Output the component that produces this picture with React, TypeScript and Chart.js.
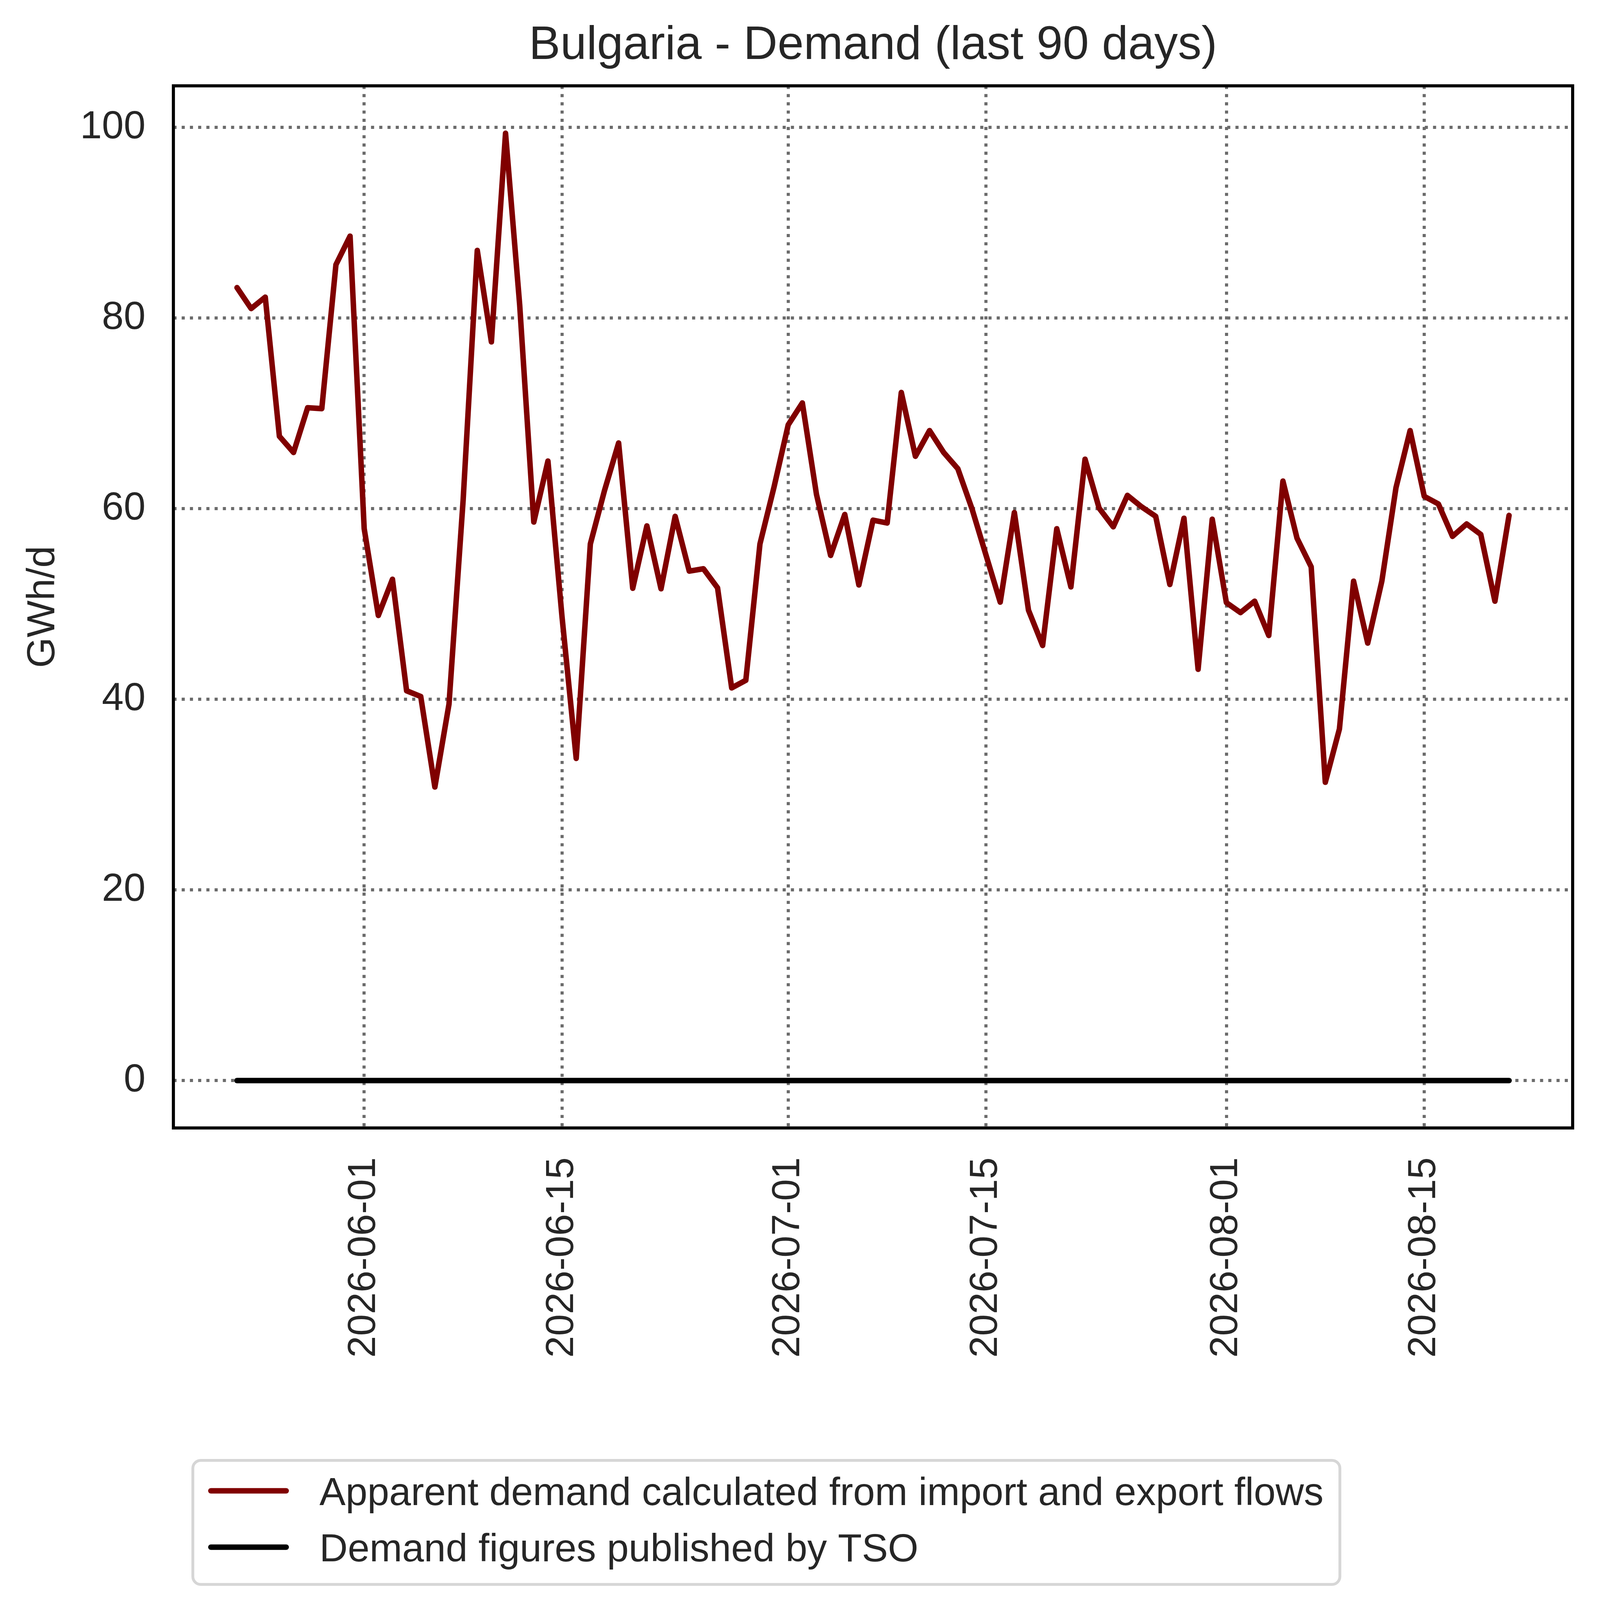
import React, { useEffect, useRef, useState } from 'react';
import { Chart, registerables } from 'chart.js';

Chart.register(...registerables);

// ---------------- data ----------------
const START_DATE = '2026-05-23';

const apparentDemand = [
  83.2, 81.0, 82.2, 67.6, 65.9, 70.6, 70.5, 85.6, 88.6, 57.9,
  48.8, 52.6, 40.9, 40.3, 30.8, 39.5, 60.9, 87.1, 77.5, 99.4,
  81.4, 58.6, 65.0, 48.6, 33.8, 56.3, 61.9, 66.9, 51.65, 58.2,
  51.6, 59.2, 53.45, 53.7, 51.7, 41.2, 42.0, 56.3, 62.3, 68.8,
  71.1, 61.5, 55.1, 59.4, 52.0, 58.8, 58.5, 72.2, 65.5, 68.2,
  65.9, 64.2, 60.0, 55.1, 50.2, 59.6, 49.35, 45.65, 57.9, 51.8,
  65.2, 60.05, 58.1, 61.4, 60.2, 59.2, 52.05, 59.0, 43.15, 58.9,
  50.15, 49.1, 50.3, 46.7, 62.9, 56.9, 53.9, 31.3, 36.9, 52.4,
  45.9, 52.4, 62.2, 68.2, 61.3, 60.5, 57.1, 58.4, 57.3, 50.3,
  59.3,
];

const tsoDemand = [
  0, 0, 0, 0, 0, 0, 0, 0, 0, 0,
  0, 0, 0, 0, 0, 0, 0, 0, 0, 0,
  0, 0, 0, 0, 0, 0, 0, 0, 0, 0,
  0, 0, 0, 0, 0, 0, 0, 0, 0, 0,
  0, 0, 0, 0, 0, 0, 0, 0, 0, 0,
  0, 0, 0, 0, 0, 0, 0, 0, 0, 0,
  0, 0, 0, 0, 0, 0, 0, 0, 0, 0,
  0, 0, 0, 0, 0, 0, 0, 0, 0, 0,
  0, 0, 0, 0, 0, 0, 0, 0, 0, 0,
  0,
];

const xTickLabels = ['2026-06-01', '2026-06-15', '2026-07-01', '2026-07-15', '2026-08-01', '2026-08-15'];
const yTickValues = [0, 20, 40, 60, 80, 100];

const TITLE = 'Bulgaria - Demand (last 90 days)';
const Y_LABEL = 'GWh/d';
const SERIES_LABELS = [
  'Apparent demand calculated from import and export flows',
  'Demand figures published by TSO',
];
const SERIES_COLORS = ['#800000', '#000000'];

// ---------------- layout / style (design units = output pixels) ----------------
const W = 5675;
const H = 5721;
const FONT = "'Liberation Sans', Arial, Helvetica, sans-serif";
const TEXT_COLOR = '#262626';
const GRID_COLOR = '#6b6b6b';
const TICK_SIZE = 139;
const TITLE_SIZE = 167;
const LINE_W = 19.5;

function dayOffset(s: string): number {
  const [y, m, d] = s.split('-').map(Number);
  const [y0, m0, d0] = START_DATE.split('-').map(Number);
  return Math.round((Date.UTC(y, m - 1, d) - Date.UTC(y0, m0 - 1, d0)) / 86400000);
}

export default function App() {
  const ref = useRef<HTMLCanvasElement | null>(null);
  const [k] = useState(() => {
    if (typeof window === 'undefined') return 1;
    const cw = window.innerWidth || W;
    return cw / W;
  });

  useEffect(() => {
    document.body.style.margin = '0';
    document.body.style.overflow = 'hidden';
    if (!ref.current) return;
    Chart.defaults.font.family = FONT;

    const s = (v: number) => v * k;

    const n = apparentDemand.length;
    const xMargin = (n - 1) * 0.05;
    const allVals = apparentDemand.concat(tsoDemand);
    const dMin = Math.min(...allVals);
    const dMax = Math.max(...allVals);
    const yMargin = (dMax - dMin) * 0.05;

    const tickFont = { family: FONT, size: s(TICK_SIZE), weight: 'normal' as const };

    const framePlugin = {
      id: 'axesFrame',
      afterDatasetsDraw(chart: any) {
        const { ctx, chartArea: a } = chart;
        ctx.save();
        ctx.strokeStyle = '#000000';
        ctx.lineWidth = s(11);
        ctx.strokeRect(a.left, a.top, a.right - a.left, a.bottom - a.top);
        ctx.restore();
      },
    };

    const legendPlugin = {
      id: 'boxLegend',
      afterDraw(chart: any) {
        const { ctx, chartArea: a } = chart;
        const left = a.left + s(69);
        const top = a.bottom + s(1179);
        const rowGap = s(200);
        const firstRowY = top + s(108);
        const lineX0 = left + s(64);
        const lineX1 = left + s(331);
        const textX = left + s(449);
        ctx.save();
        ctx.font = `${s(TICK_SIZE)}px ${FONT}`;
        let maxW = 0;
        SERIES_LABELS.forEach((t) => {
          maxW = Math.max(maxW, ctx.measureText(t).width);
        });
        const right = textX + maxW + s(58);
        const bottom = firstRowY + rowGap + s(132);
        const r = s(28);
        ctx.beginPath();
        ctx.moveTo(left + r, top);
        ctx.lineTo(right - r, top);
        ctx.arcTo(right, top, right, top + r, r);
        ctx.lineTo(right, bottom - r);
        ctx.arcTo(right, bottom, right - r, bottom, r);
        ctx.lineTo(left + r, bottom);
        ctx.arcTo(left, bottom, left, bottom - r, r);
        ctx.lineTo(left, top + r);
        ctx.arcTo(left, top, left + r, top, r);
        ctx.closePath();
        ctx.fillStyle = 'rgba(255,255,255,0.8)';
        ctx.fill();
        ctx.lineWidth = s(10);
        ctx.strokeStyle = '#d6d6d6';
        ctx.stroke();

        SERIES_LABELS.forEach((t, i) => {
          const y = firstRowY + i * rowGap;
          ctx.beginPath();
          ctx.moveTo(lineX0, y);
          ctx.lineTo(lineX1, y);
          ctx.lineWidth = s(LINE_W);
          ctx.lineCap = 'round';
          ctx.strokeStyle = SERIES_COLORS[i];
          ctx.stroke();
          ctx.fillStyle = TEXT_COLOR;
          ctx.textAlign = 'left';
          ctx.textBaseline = 'alphabetic';
          ctx.fillText(t, textX, y + s(50));
        });
        ctx.restore();
      },
    };

    const chart = new Chart(ref.current, {
      type: 'line',
      data: {
        datasets: [
          {
            label: SERIES_LABELS[0],
            data: apparentDemand.map((v, i) => ({ x: i, y: v })),
            borderColor: SERIES_COLORS[0],
            backgroundColor: SERIES_COLORS[0],
            borderWidth: s(LINE_W),
            pointRadius: 0,
            tension: 0,
            fill: false,
            borderCapStyle: 'round',
            borderJoinStyle: 'round',
            order: 2,
          },
          {
            label: SERIES_LABELS[1],
            data: tsoDemand.map((v, i) => ({ x: i, y: v })),
            borderColor: SERIES_COLORS[1],
            backgroundColor: SERIES_COLORS[1],
            borderWidth: s(LINE_W),
            pointRadius: 0,
            tension: 0,
            fill: false,
            borderCapStyle: 'round',
            borderJoinStyle: 'round',
            order: 1,
          },
        ],
      },
      options: {
        responsive: false,
        animation: false,
        events: [],
        layout: { padding: { left: 0, right: s(97), top: 0, bottom: 0 } },
        plugins: {
          legend: { display: false },
          tooltip: { enabled: false },
          title: {
            display: true,
            text: TITLE,
            fullSize: false,
            color: TEXT_COLOR,
            font: { family: FONT, size: s(TITLE_SIZE), weight: 'normal' },
            padding: { top: s(63), bottom: s(41) },
          },
        },
        scales: {
          x: {
            type: 'linear',
            min: -xMargin,
            max: n - 1 + xMargin,
            afterBuildTicks: (sc: any) => {
              sc.ticks = xTickLabels.map((l) => ({ value: dayOffset(l) }));
            },
            afterFit: (sc: any) => {
              sc.height = s(1720);
            },
            ticks: {
              autoSkip: false,
              minRotation: 90,
              maxRotation: 90,
              padding: s(104),
              color: TEXT_COLOR,
              font: tickFont,
              callback: (_v: any, i: number) => xTickLabels[i],
            },
            grid: { color: GRID_COLOR, lineWidth: s(11), drawTicks: false },
            border: { display: false, dash: [s(11), s(18.2)] },
          },
          y: {
            type: 'linear',
            min: dMin - yMargin,
            max: dMax + yMargin,
            afterBuildTicks: (sc: any) => {
              sc.ticks = yTickValues.map((v) => ({ value: v }));
            },
            afterFit: (sc: any) => {
              sc.width = s(615);
            },
            ticks: {
              padding: s(99),
              color: TEXT_COLOR,
              font: tickFont,
              callback: (v: any) => String(v),
            },
            grid: { color: GRID_COLOR, lineWidth: s(11), drawTicks: false },
            border: { display: false, dash: [s(11), s(18.2)] },
            title: {
              display: true,
              text: Y_LABEL,
              color: TEXT_COLOR,
              font: tickFont,
              padding: { top: s(71), bottom: 0 },
            },
          },
        },
      } as any,
      plugins: [framePlugin, legendPlugin],
    });

    return () => {
      chart.destroy();
    };
  }, [k]);

  const cssW = W * k;
  const cssH = H * k;
  return (
    <div style={{ width: cssW, height: cssH, background: '#ffffff' }}>
      <canvas
        ref={ref}
        width={Math.round(cssW)}
        height={Math.round(cssH)}
        style={{ display: 'block', width: cssW, height: cssH }}
      />
    </div>
  );
}
